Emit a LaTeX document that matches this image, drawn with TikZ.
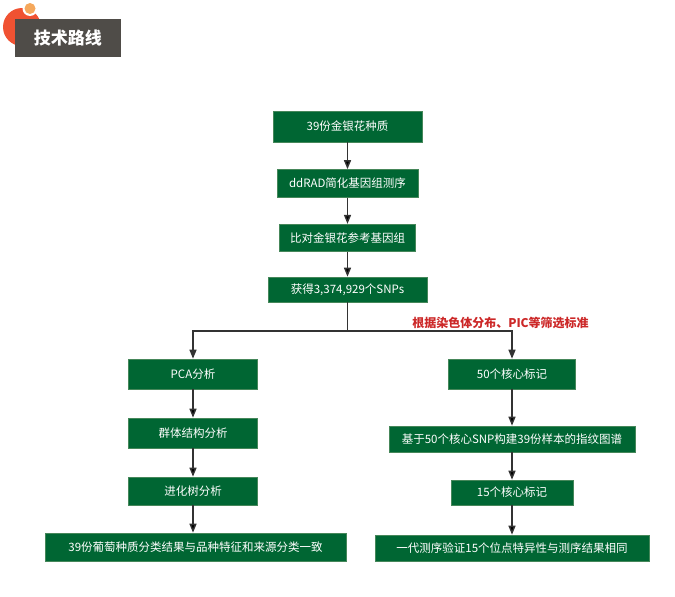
\documentclass[tikz,border=0pt]{standalone}
\usepackage{fontspec}
\usetikzlibrary{arrows.meta}
\newfontfamily\cjk{Noto Sans CJK SC}
\definecolor{boxgreen}{RGB}{0,102,51}
\definecolor{boxedge}{RGB}{70,135,90}
\definecolor{arrowgray}{RGB}{51,51,51}
\definecolor{notered}{RGB}{204,40,40}
\definecolor{titlegray}{RGB}{79,76,72}
\definecolor{dotred}{RGB}{240,82,50}
\definecolor{dotorange}{RGB}{245,168,92}
\begin{document}
\begin{tikzpicture}[x=1pt,y=-1pt,
    flowbox/.style={draw=boxedge,fill=boxgreen,text=white,inner sep=0pt,line width=0.6pt,
        font=\cjk\fontsize{11.5}{13}\selectfont},
    flow/.style={draw=arrowgray,line width=1.4pt,-{Triangle[width=7pt,length=9pt]}},
    plainline/.style={draw=arrowgray,line width=1.4pt}]
    \useasboundingbox (0,0) rectangle (675,597);

    % title badge
    \fill[dotred] (22,27) circle[radius=19pt];
    \fill[white] (30,8.5) circle[radius=7.5pt];
    \fill[dotorange] (30,8.5) circle[radius=5.5pt];
    \node[fill=titlegray,text=white,minimum width=106pt,minimum height=37.5pt,
        font=\cjk\bfseries\fontsize{17}{19}\selectfont] (title) at (68,38.2) {技术路线};

    % main chain
    \node[flowbox,minimum width=149pt,minimum height=31pt] (seed) at (347.5,126.5) {39份金银花种质};
    \node[flowbox,minimum width=141pt,minimum height=28pt] (ddrad) at (347.5,183.5) {ddRAD简化基因组测序};
    \node[flowbox,minimum width=136pt,minimum height=27pt] (align) at (347.5,237.7) {比对金银花参考基因组};
    \node[flowbox,minimum width=159pt,minimum height=25pt] (snps) at (347.5,289.5) {获得3,374,929个SNPs};

    % left branch
    \node[flowbox,minimum width=129pt,minimum height=30pt] (pca) at (193,374) {PCA分析};
    \node[flowbox,minimum width=129pt,minimum height=30pt] (struct) at (193,433) {群体结构分析};
    \node[flowbox,minimum width=129pt,minimum height=28pt] (tree) at (193,491) {进化树分析};
    \node[flowbox,minimum width=301pt,minimum height=28pt] (resl) at (195.5,547) {39份葡萄种质分类结果与品种特征和来源分类一致};

    % right branch
    \node[flowbox,minimum width=127pt,minimum height=30pt] (core50) at (512,374) {50个核心标记};
    \node[flowbox,minimum width=246pt,minimum height=26pt] (print) at (512,439) {基于50个核心SNP构建39份样本的指纹图谱};
    \node[flowbox,minimum width=122pt,minimum height=25pt] (core15) at (512,492.5) {15个核心标记};
    \node[flowbox,minimum width=274pt,minimum height=26pt] (resr) at (512,548) {一代测序验证15个位点特异性与测序结果相同};

    \node[text=notered,font=\cjk\bfseries\fontsize{12}{14}\selectfont] (rule) at (500.5,322.5) {根据染色体分布、PIC等筛选标准};

    \coordinate (fork) at (347.5,331);

    \path[flow] (seed) edge (ddrad);
    \path[flow] (ddrad) edge (align);
    \path[flow] (align) edge (snps);
    \draw[plainline] (snps) -- (fork);
    \draw[flow] (fork) -| (pca);
    \draw[flow] (fork) -| (core50);

    \path[flow] (pca) edge (struct);
    \path[flow] (struct) edge (tree);
    \path[flow] (tree) edge (tree |- resl.north);

    \path[flow] (core50) edge (print);
    \path[flow] (print) edge (core15);
    \path[flow] (core15) edge (resr);

\end{tikzpicture}
\end{document}
